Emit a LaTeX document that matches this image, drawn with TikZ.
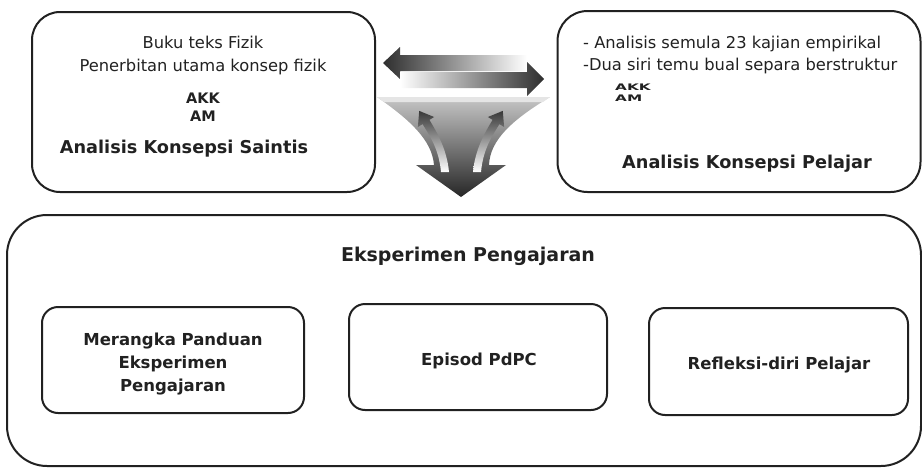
\documentclass[tikz,border=0pt]{standalone}
\usepackage{fontspec}
\setmainfont{DejaVu Sans}
\newfontfamily\widefont{DejaVu Sans}[FakeStretch=1.7]
\begin{document}
\begin{tikzpicture}[x=1pt,y=-1pt,
  ink/.style={draw=black!87, line width=2pt},
  panel/.style={ink, rounded corners=#1, inner sep=0pt},
  panel/.default=16pt,
  plain/.style={font=\fontsize{16.3}{19}\selectfont, text=black!87, inner sep=0pt},
  heading/.style={font=\fontsize{17.7}{21}\selectfont\bfseries, text=black!87, inner sep=0pt},
  stepname/.style={font=\fontsize{16.5}{23}\selectfont\bfseries, text=black!87, inner sep=0pt, align=center},
  tag/.style={font=\fontsize{14.5}{17}\selectfont\bfseries, text=black!87, inner sep=0pt},
  widetag/.style={font=\widefont\fontsize{9}{11}\selectfont\bfseries, text=black!87, inner sep=0pt}]
\useasboundingbox (0,0) rectangle (922,469);

% ---- upper panels ----
\node[panel=28pt, minimum width=343pt, minimum height=180pt] (saintis) at (203.5,102) {};
\node[panel=30pt, minimum width=363pt, minimum height=181pt] (pelajar) at (739,101.5) {};

\node[plain, anchor=base] (buku) at (203,48.5) {Buku teks Fizik};
\node[plain, anchor=base] (terbit) at (203,71.7) {Penerbitan utama konsep fizik};
\node[tag, anchor=base] (akkL) at (203,103) {AKK};
\node[tag, anchor=base] (amL) at (203,121.5) {AM};
\node[heading, anchor=base] (tSaintis) at (184,153) {Analisis Konsepsi Saintis};

\node[plain, anchor=base west] (semula) at (583,48.3) {- Analisis semula 23 kajian empirikal};
\node[plain, anchor=base west] (temu) at (583,70) {-Dua siri temu bual separa berstruktur};
\node[widetag, anchor=base west] (akkR) at (615,90) {AKK};
\node[widetag, anchor=base west] (amR) at (615,101.7) {AM};
\node[heading, anchor=base] (tPelajar) at (747,168.3) {Analisis Konsepsi Pelajar};

% ---- two-way arrow between the panels ----
\shade[left color=black!82, right color=white]
  (383,63) -- (400,47) -- (400,55) -- (527,55) -- (527,71) -- (400,71) -- (400,79) -- cycle;
\shade[left color=white, right color=black!82]
  (544,79) -- (527,62) -- (527,72) -- (400,72) -- (400,88) -- (527,88) -- (527,96) -- cycle;

% ---- funnel with downward arrow ----
\shade[top color=black!22, bottom color=black!85]
  (377,97) -- (550,97) .. controls (512,120) and (490,140) .. (489,165)
  -- (506,165) -- (461,197) -- (416,165) -- (434,165)
  .. controls (432,140) and (410,120) .. (377,97) -- cycle;
\fill[black!10] (377,97) -- (550,97) -- (543,102) -- (384,102) -- cycle;

% ---- curved feedback arrows inside the funnel ----
\shade[top color=black!78, bottom color=white]
  (441,172) -- (449,172) .. controls (447,150) and (437.4,133) .. (429.4,119.9)
  -- (434.1,117.0) -- (419.2,110.9) -- (417.9,127.0) -- (422.6,124.1)
  .. controls (430.6,137) and (439,150) .. (441,172) -- cycle;
\shade[top color=black!78, bottom color=white]
  (481,172) -- (473,172) .. controls (475,150) and (484.6,133) .. (492.6,119.9)
  -- (487.9,117.0) -- (502.8,110.9) -- (504.1,127.0) -- (499.4,124.1)
  .. controls (491.4,137) and (483,150) .. (481,172) -- cycle;

% ---- lower panel ----
\node[panel=40pt, minimum width=914pt, minimum height=251pt] (eksp) at (464,340.5) {};
\node[heading, font=\fontsize{19}{22}\selectfont\bfseries, anchor=base] (tEksp) at (468,261) {Eksperimen Pengajaran};

\node[panel, minimum width=262pt, minimum height=106pt] (rangka) at (173,360) {};
\node[panel, minimum width=258pt, minimum height=106pt] (episod) at (478,357) {};
\node[panel, minimum width=259pt, minimum height=107pt] (refleksi) at (778.5,361.5) {};

\node[stepname] (tRangka) at (173,364) {Merangka Panduan\\Eksperimen\\Pengajaran};
\node[stepname, anchor=base] (tEpisod) at (479,365) {Episod PdPC};
\node[stepname, anchor=base] (tRefleksi) at (779,369.3) {Refleksi-diri Pelajar};
\end{tikzpicture}
\end{document}
